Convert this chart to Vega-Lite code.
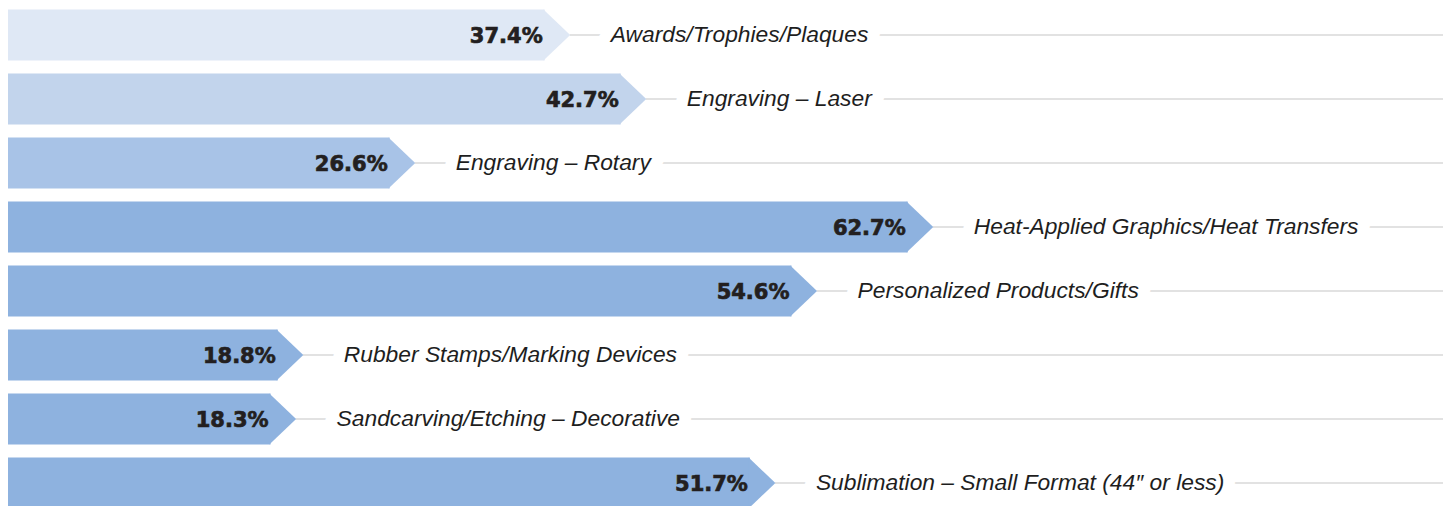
{
  "$schema": "https://vega.github.io/schema/vega-lite/v6.json",
  "width": 1435,
  "height": 512,
  "autosize": {"type": "none"},
  "padding": {"left": 8, "top": 3, "right": 0, "bottom": 0},
  "background": "white",
  "config": {"view": {"stroke": null}},
  "data": {
    "values": [
      {"category": "Awards/Trophies/Plaques", "share": 0.374},
      {"category": "Engraving – Laser", "share": 0.427},
      {"category": "Engraving – Rotary", "share": 0.266},
      {"category": "Heat-Applied Graphics/Heat Transfers", "share": 0.627},
      {"category": "Personalized Products/Gifts", "share": 0.546},
      {"category": "Rubber Stamps/Marking Devices", "share": 0.188},
      {"category": "Sandcarving/Etching – Decorative", "share": 0.183},
      {"category": "Sublimation – Small Format (44″ or less)", "share": 0.517}
    ]
  },
  "encoding": {
    "y": {
      "field": "category",
      "type": "nominal",
      "sort": null,
      "axis": null,
      "scale": {"paddingInner": 0.203, "paddingOuter": 0.1015}
    },
    "x": {
      "field": "share",
      "type": "quantitative",
      "axis": null,
      "scale": {"domain": [0, 1], "nice": false, "zero": true}
    }
  },
  "layer": [
    {
      "mark": {"type": "rule", "stroke": "#d9d9d9", "strokeWidth": 1.5, "xOffset": 25},
      "encoding": {"x2": {"datum": 1}}
    },
    {
      "mark": {"type": "bar", "strokeWidth": 0},
      "encoding": {
        "color": {
          "field": "category",
          "type": "nominal",
          "legend": null,
          "scale": {
            "domain": ["Awards/Trophies/Plaques", "Engraving – Laser", "Engraving – Rotary", "Heat-Applied Graphics/Heat Transfers", "Personalized Products/Gifts", "Rubber Stamps/Marking Devices", "Sandcarving/Etching – Decorative", "Sublimation – Small Format (44″ or less)"],
            "range": ["#dfe8f5", "#c2d4ec", "#a8c3e7", "#8eb2df", "#8eb2df", "#8eb2df", "#8eb2df", "#8eb2df"]
          }
        }
      }
    },
    {
      "mark": {"type": "point", "shape": "M-0.05,-1L1,0L-0.05,1Z", "size": 2601, "filled": true, "opacity": 1, "strokeWidth": 0},
      "encoding": {
        "color": {"field": "category", "type": "nominal", "legend": null}
      }
    },
    {
      "mark": {"type": "text", "align": "right", "baseline": "alphabetic", "dx": -2, "dy": 8, "font": "DejaVu Sans", "fontWeight": "bold", "fontSize": 21, "fill": "#231f20", "stroke": "#231f20", "strokeWidth": 0.7},
      "encoding": {"text": {"field": "share", "type": "quantitative", "format": ".1%"}}
    },
    {
      "mark": {"type": "text", "align": "left", "baseline": "alphabetic", "dx": 66, "dy": 7, "font": "Liberation Sans", "fontStyle": "italic", "fontSize": 22.8, "fill": "white", "stroke": "white", "strokeWidth": 24, "strokeJoin": "round"},
      "encoding": {"text": {"field": "category", "type": "nominal"}}
    },
    {
      "mark": {"type": "text", "align": "left", "baseline": "alphabetic", "dx": 66, "dy": 7, "font": "Liberation Sans", "fontStyle": "italic", "fontSize": 22.8, "color": "#1e1e1e"},
      "encoding": {"text": {"field": "category", "type": "nominal"}}
    }
  ]
}
